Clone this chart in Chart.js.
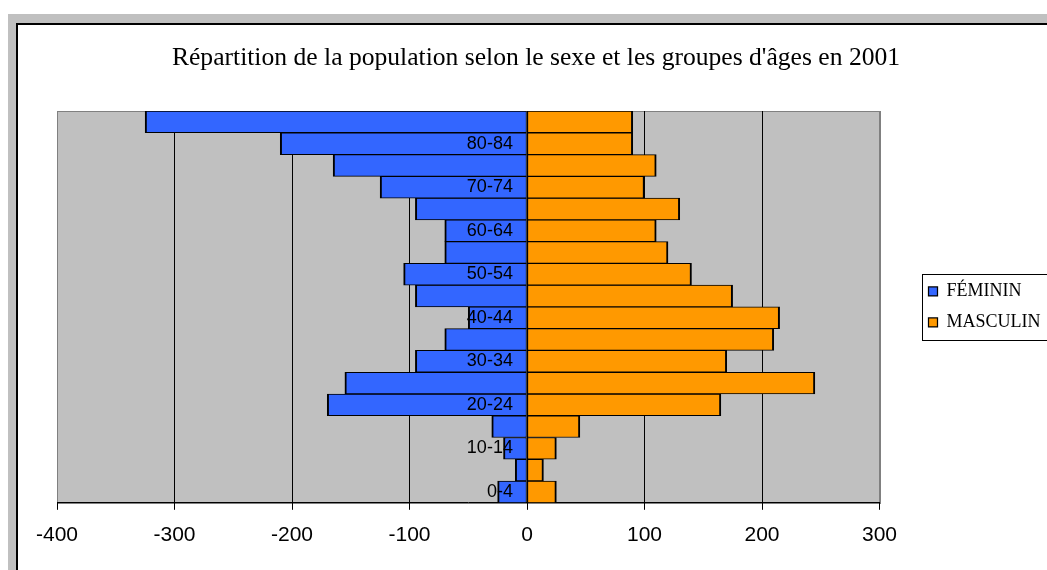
<!DOCTYPE html>
<html>
<head>
<meta charset="utf-8">
<script src="https://cdn.jsdelivr.net/npm/chart.js@4"></script>
<style>
  html, body { margin: 0; padding: 0; background: #fff; overflow: hidden; }
  #frame { position: absolute; left: 8px; top: 14px; width: 1100px; height: 600px; background: #c0c0c0; }
  #sheet { position: absolute; left: 16px; top: 23px; width: 1100px; height: 600px; background: #fff;
           border-left: 2px solid #000; border-top: 2px solid #000; }
  #chart { position: absolute; left: 0; top: 0; }
</style>
</head>
<body>
<div id="frame"></div>
<div id="sheet"></div>
<canvas id="chart" width="1047" height="570"></canvas>
<script>
// groupes d'âges, du bas vers le haut
const ageGroups = ["0-4", "5-9", "10-14", "15-19", "20-24", "25-29", "30-34", "35-39", "40-44",
                   "45-49", "50-54", "55-59", "60-64", "65-69", "70-74", "75-79", "80-84", "85+"];

const feminin = [-25, -10, -20, -30, -170, -155, -95, -70, -50,
                 -95, -105, -70, -70, -95, -125, -165, -210, -325];

const masculin = [25, 14, 25, 45, 165, 245, 170, 210, 215,
                  175, 140, 120, 110, 130, 100, 110, 90, 90];

const xTicks = [-400, -300, -200, -100, 0, 100, 200, 300];

const titleText = "Répartition de la population selon le sexe et les groupes d'âges en 2001";

// gray plot area with gray border
const plotBg = {
    id: "plotBg",
    beforeDraw(chart) {
        const { ctx, chartArea: a } = chart;
        ctx.save();
        ctx.fillStyle = "#c0c0c0";
        ctx.fillRect(a.left, a.top, a.right - a.left, a.bottom - a.top);
        ctx.strokeStyle = "#808080";
        ctx.lineWidth = 1;
        ctx.strokeRect(Math.round(a.left) + 0.5, Math.round(a.top) + 0.5,
                       Math.round(a.right - a.left), Math.round(a.bottom - a.top));
        ctx.restore();
    }
};

// frame around the legend
const legendBox = {
    id: "legendBox",
    afterDraw(chart) {
        const boxes = chart.legend.legendHitBoxes;
        if (!boxes || !boxes.length) return;
        const left = Math.min(...boxes.map(b => b.left)) - 7;
        const top = Math.min(...boxes.map(b => b.top)) - 8;
        const bottom = Math.max(...boxes.map(b => b.top + b.height)) + 9;
        const right = chart.width - 1;
        const ctx = chart.ctx;
        ctx.save();
        ctx.strokeStyle = "#000";
        ctx.lineWidth = 1;
        ctx.strokeRect(Math.round(left) + 0.5, Math.round(top) + 0.5,
                       Math.round(right - left), Math.round(bottom - top));
        ctx.restore();
    }
};

const edge = v => v === xTicks[0] || v === xTicks[xTicks.length - 1];

// empty side scales, only used to leave room around the plot
const spacer = (position, width) => ({
    type: "linear",
    position: position,
    grid: { display: false },
    border: { display: false },
    ticks: { display: false },
    afterFit: s => { s.width = width; }
});

new Chart(document.getElementById("chart"), {
    type: "bar",
    data: {
        labels: ageGroups,
        datasets: [
            {
                label: "FÉMININ",
                data: feminin,
                backgroundColor: "#3366ff",
                borderColor: "#000",
                borderWidth: { top: 1, bottom: 1, left: 2, right: 1 },
                borderSkipped: false,
                barPercentage: 1,
                categoryPercentage: 1
            },
            {
                label: "MASCULIN",
                data: masculin,
                backgroundColor: "#ff9900",
                borderColor: "#000",
                borderWidth: { top: 1, bottom: 1, left: 1, right: 2 },
                borderSkipped: false,
                barPercentage: 1,
                categoryPercentage: 1
            }
        ]
    },
    options: {
        indexAxis: "y",
        responsive: false,
        animation: false,
        layout: { padding: { top: 24, left: 30, right: 5, bottom: 9 } },
        plugins: {
            title: {
                display: true,
                text: titleText,
                color: "#000",
                font: { family: "Liberation Serif", size: 25.6, weight: "normal" },
                padding: { top: 19, bottom: 37.3 }
            },
            legend: {
                position: "right",
                fullSize: false,
                labels: {
                    color: "#000",
                    font: { family: "Liberation Serif", size: 18 },
                    boxWidth: 9,
                    boxHeight: 9,
                    padding: 13
                }
            },
            tooltip: { enabled: false }
        },
        scales: {
            x: {
                stacked: true,
                min: xTicks[0],
                max: xTicks[xTicks.length - 1],
                ticks: {
                    stepSize: 100,
                    color: "#000",
                    padding: 13,
                    font: { family: "Liberation Sans", size: 21 }
                },
                grid: {
                    color: c => edge(c.tick.value) ? "#808080" : "#000",
                    tickColor: "#000",
                    tickLength: 7,
                    lineWidth: 1
                },
                border: { color: "#000", width: 1 }
            },
            y: {
                stacked: true,
                reverse: true,
                position: { x: -12 },
                grid: { display: false },
                border: { display: false },
                ticks: {
                    z: 1,
                    autoSkip: false,
                    color: "#000",
                    padding: 0,
                    font: { family: "Liberation Sans", size: 18 },
                    callback: (v, i) => i % 2 === 0 ? ageGroups[i] : ""
                }
            },
            gapLeft: spacer("left", 27),
            gapRight: spacer("right", 36)
        }
    },
    plugins: [plotBg, legendBox]
});
</script>
</body>
</html>
